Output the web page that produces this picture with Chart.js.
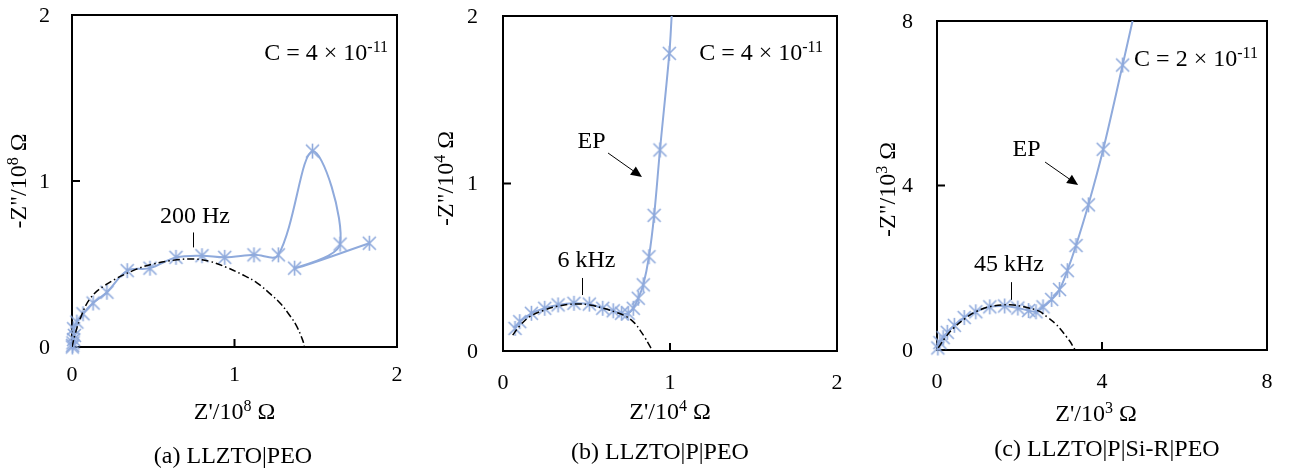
<!DOCTYPE html>
<html>
<head>
<meta charset="utf-8">
<script src="https://cdn.jsdelivr.net/npm/chart.js@4.4.1/dist/chart.umd.min.js"></script>
<style>
  body { margin: 0; background: #fff; width: 1290px; height: 474px; overflow: hidden; position: relative; }
  canvas { position: absolute; top: 0; }
</style>
</head>
<body>
<canvas id="chartA" width="430" height="474" style="left:0px"></canvas>
<canvas id="chartB" width="430" height="474" style="left:430px"></canvas>
<canvas id="chartC" width="430" height="474" style="left:860px"></canvas>
<script>
// (a) LLZTO|PEO  -- Z in 10^8 ohm
const aZre = [0.002, 0.004, 0.006, 0.01, 0.015, 0.01, 0.03, 0.068, 0.13, 0.215, 0.34, 0.48, 0.64, 0.80, 0.94, 1.12, 1.27, 1.48, 1.65, 1.37, 1.83];
const aZim = [0.0, 0.01, 0.025, 0.045, 0.07, 0.11, 0.15, 0.20, 0.265, 0.33, 0.46, 0.475, 0.54, 0.55, 0.54, 0.555, 0.555, 1.18, 0.62, 0.475, 0.625];
const aFitRe = [0, 0.02, 0.05, 0.11, 0.2, 0.375, 0.5, 0.645, 0.75, 0.85, 0.95, 1.05, 1.14, 1.22, 1.28, 1.34, 1.38, 1.42, 1.43];
const aFitIm = [0, 0.08, 0.17, 0.29, 0.37, 0.46, 0.5, 0.525, 0.53, 0.515, 0.48, 0.435, 0.385, 0.32, 0.265, 0.19, 0.13, 0.04, 0];

// (b) LLZTO|P|PEO  -- Z in 10^4 ohm
const bZre = [0.072, 0.10, 0.17, 0.25, 0.33, 0.425, 0.517, 0.597, 0.66, 0.71, 0.75, 0.78, 0.81, 0.84, 0.874, 0.905, 0.94, 0.996, 1.01];
const bZim = [0.135, 0.175, 0.225, 0.255, 0.275, 0.285, 0.28, 0.255, 0.24, 0.225, 0.225, 0.255, 0.315, 0.395, 0.563, 0.81, 1.20, 1.777, 2.0];
const bFitRe = [0.058, 0.1, 0.16, 0.25, 0.33, 0.43, 0.52, 0.6, 0.68, 0.74, 0.79, 0.82, 0.85, 0.87, 0.896];
const bFitIm = [0.095, 0.15, 0.205, 0.245, 0.268, 0.28, 0.275, 0.255, 0.23, 0.205, 0.165, 0.125, 0.08, 0.045, 0];

// (c) LLZTO|P|Si-R|PEO  -- Z in 10^3 ohm
const cZre = [0.02, 0.07, 0.15, 0.25, 0.42, 0.66, 0.94, 1.28, 1.64, 1.96, 2.22, 2.4, 2.57, 2.78, 2.97, 3.16, 3.37, 3.67, 4.03, 4.50, 4.74];
const cZim = [0.05, 0.18, 0.30, 0.43, 0.60, 0.79, 0.93, 1.05, 1.07, 1.02, 0.96, 0.93, 1.05, 1.23, 1.47, 1.93, 2.54, 3.53, 4.88, 6.93, 8.0];
const cFitRe = [0.03, 0.2, 0.4, 0.7, 0.96, 1.3, 1.77, 2.1, 2.46, 2.7, 2.86, 3.0, 3.14, 3.23, 3.30, 3.35];
const cFitIm = [0.05, 0.3, 0.53, 0.78, 0.94, 1.06, 1.1, 1.05, 0.95, 0.78, 0.65, 0.5, 0.32, 0.2, 0.08, 0];

const serif = '"Liberation Serif", "Times New Roman", serif';
const lineBlue = '#8faadc';
const textSize = 24;
const tickSize = 22;

function toPoints(xs, ys) {
    return xs.map((x, i) => ({ x: x, y: ys[i] }));
}

// asterisk marker: X with a vertical stroke
function makeStar(color) {
    const c = document.createElement('canvas');
    c.width = 17; c.height = 17;
    const g = c.getContext('2d');
    g.strokeStyle = color;
    g.lineWidth = 1.6;
    g.beginPath();
    g.moveTo(2, 2); g.lineTo(15, 15);
    g.moveTo(15, 2); g.lineTo(2, 15);
    g.moveTo(8.5, 1); g.lineTo(8.5, 16);
    g.stroke();
    return c;
}
const star = makeStar(lineBlue);

// text with superscript parts, y is the vertical middle
function richText(ctx, parts, x, y, size, align) {
    const sup = Math.round(size * 0.65);
    let w = 0;
    parts.forEach(p => {
        ctx.font = (p.sup ? sup : size) + 'px ' + serif;
        w += ctx.measureText(p.t).width;
    });
    let cx = align === 'right' ? x - w : (align === 'center' ? x - w / 2 : x);
    const base = y + size * 0.33;
    ctx.textAlign = 'left';
    ctx.textBaseline = 'alphabetic';
    ctx.fillStyle = '#000';
    parts.forEach(p => {
        ctx.font = (p.sup ? sup : size) + 'px ' + serif;
        ctx.fillText(p.t, cx, p.sup ? base - size * 0.31 : base);
        cx += ctx.measureText(p.t).width;
    });
}

function arrow(ctx, x1, y1, x2, y2) {
    const ang = Math.atan2(y2 - y1, x2 - x1);
    const len = 11, half = 5;
    const bx = x2 - len * Math.cos(ang), by = y2 - len * Math.sin(ang);
    ctx.strokeStyle = '#000';
    ctx.lineWidth = 1;
    ctx.beginPath();
    ctx.moveTo(x1, y1);
    ctx.lineTo(bx, by);
    ctx.stroke();
    ctx.fillStyle = '#000';
    ctx.beginPath();
    ctx.moveTo(x2, y2);
    ctx.lineTo(bx + half * Math.sin(ang), by - half * Math.cos(ang));
    ctx.lineTo(bx - half * Math.sin(ang), by + half * Math.cos(ang));
    ctx.closePath();
    ctx.fill();
}

const panelDecor = {
    id: 'panelDecor',
    beforeDatasetsDraw(chart, args, o) {
        const { ctx, chartArea: a, scales: { x, y } } = chart;
        ctx.save();
        ctx.strokeStyle = '#000';
        ctx.lineWidth = 2;
        ctx.strokeRect(a.left, a.top, a.width, a.height);
        ctx.beginPath();
        x.ticks.forEach(t => {
            const px = x.getPixelForValue(t.value);
            ctx.moveTo(px, a.bottom); ctx.lineTo(px, a.bottom - 8);
        });
        y.ticks.forEach(t => {
            const py = y.getPixelForValue(t.value);
            ctx.moveTo(a.left, py); ctx.lineTo(a.left + 8, py);
        });
        ctx.stroke();
        // tick labels, placed from the scales' own ticks
        ctx.fillStyle = '#000';
        ctx.font = tickSize + 'px ' + serif;
        ctx.textBaseline = 'middle';
        ctx.textAlign = 'center';
        x.ticks.forEach(t => ctx.fillText(String(t.value), x.getPixelForValue(t.value), a.bottom + o.xLabelGap));
        ctx.textAlign = 'right';
        y.ticks.forEach(t => ctx.fillText(String(t.value), a.left - o.yLabelGap, y.getPixelForValue(t.value) + 1));
        ctx.restore();
    },
    afterDraw(chart, args, o) {
        const { ctx, chartArea: a, scales: { x, y } } = chart;
        ctx.save();
        // C value
        richText(ctx, [{ t: o.cText }, { t: '-11', sup: true }], x.getPixelForValue(o.cPos[0]), y.getPixelForValue(o.cPos[1]), textSize, 'right');
        // frequency label and its marker line
        richText(ctx, [{ t: o.freq }], x.getPixelForValue(o.freqPos[0]), y.getPixelForValue(o.freqPos[1]), textSize, 'center');
        ctx.strokeStyle = '#000';
        ctx.lineWidth = 1;
        ctx.beginPath();
        const fx = Math.round(x.getPixelForValue(o.freqLine[0])) + 0.5;
        ctx.moveTo(fx, y.getPixelForValue(o.freqLine[1]));
        ctx.lineTo(fx, y.getPixelForValue(o.freqLine[2]));
        ctx.stroke();
        // EP arrow
        if (o.ep) {
            richText(ctx, [{ t: 'EP' }], x.getPixelForValue(o.ep.text[0]), y.getPixelForValue(o.ep.text[1]), textSize, 'center');
            arrow(ctx, x.getPixelForValue(o.ep.from[0]), y.getPixelForValue(o.ep.from[1]),
                  x.getPixelForValue(o.ep.to[0]), y.getPixelForValue(o.ep.to[1]));
        }
        // axis titles
        const midX = (a.left + a.right) / 2 + (o.xTitleShift || 0);
        richText(ctx, [{ t: "Z'/10" }, { t: o.exp, sup: true }, { t: ' \u03A9' }], midX, a.bottom + o.xTitleGap, textSize, 'center');
        ctx.save();
        ctx.translate(a.left - o.yTitleGap, (a.top + a.bottom) / 2 + (o.yTitleShift || 0));
        ctx.rotate(-Math.PI / 2);
        richText(ctx, [{ t: '-Z"/10' }, { t: o.exp, sup: true }, { t: ' \u03A9' }], 0, 0, textSize, 'center');
        ctx.restore();
        // caption
        richText(ctx, [{ t: o.caption }], o.capPos[0], o.capPos[1], textSize, 'center');
        ctx.restore();
    }
};

function makePanel(id, p) {
    const n = p.re.length;
    new Chart(document.getElementById(id), {
        type: 'scatter',
        data: {
            datasets: [{
                data: toPoints(p.re, p.im),
                showLine: true,
                borderColor: lineBlue,
                borderWidth: 2,
                tension: 0.35,
                pointStyle: c => (p.lastHidden && c.dataIndex === n - 1) ? false : star,
                clip: { left: 10, top: 0, right: 10, bottom: 10 },
                order: 2
            }, {
                data: toPoints(p.fitRe, p.fitIm),
                showLine: true,
                borderColor: '#000',
                borderWidth: 1.5,
                borderDash: [7, 3, 1.5, 3],
                pointRadius: 0,
                tension: 0.4,
                order: 1
            }]
        },
        options: {
            responsive: false,
            animation: false,
            events: [],
            layout: { padding: { left: 0, right: p.padRight, top: p.padTop, bottom: 0 } },
            plugins: {
                legend: { display: false },
                tooltip: { enabled: false },
                panelDecor: p.decor
            },
            scales: {
                x: {
                    type: 'linear', min: 0, max: p.max,
                    border: { display: false },
                    grid: { display: false, drawTicks: false },
                    ticks: { stepSize: p.step, display: false, padding: 0 },
                    afterFit: s => { s.height = p.xH; }
                },
                y: {
                    type: 'linear', min: 0, max: p.max,
                    border: { display: false },
                    grid: { display: false, drawTicks: false },
                    ticks: { stepSize: p.step, display: false, padding: 0 },
                    afterFit: s => { s.width = p.yW; }
                }
            }
        },
        plugins: [panelDecor]
    });
}

makePanel('chartA', {
    re: aZre, im: aZim, fitRe: aFitRe, fitIm: aFitIm,
    max: 2, step: 1, padRight: 33, padTop: 15, yW: 72, xH: 127,
    decor: {
        xLabelGap: 28, yLabelGap: 22,
        cText: 'C = 4 \u00D7 10', cPos: [1.945, 1.777],
        freq: '200 Hz', freqPos: [0.757, 0.795], freqLine: [0.745, 0.69, 0.60],
        exp: '8', xTitleGap: 64, yTitleGap: 54,
        caption: '(a) LLZTO|PEO', capPos: [233, 455]
    }
});

makePanel('chartB', {
    re: bZre, im: bZim, fitRe: bFitRe, fitIm: bFitIm, lastHidden: true,
    max: 2, step: 1, padRight: 23, padTop: 16, yW: 73, xH: 123,
    decor: {
        xLabelGap: 32, yLabelGap: 25,
        cText: 'C = 4 \u00D7 10', cPos: [1.916, 1.785],
        freq: '6 kHz', freqPos: [0.50, 0.549], freqLine: [0.473, 0.436, 0.334],
        ep: { text: [0.53, 1.26], from: [0.629, 1.182], to: [0.832, 1.039] },
        exp: '4', xTitleGap: 60, yTitleGap: 58, yTitleShift: -5,
        caption: '(b) LLZTO|P|PEO', capPos: [230, 451]
    }
});

makePanel('chartC', {
    re: cZre, im: cZim, fitRe: cFitRe, fitIm: cFitIm, lastHidden: true,
    max: 8, step: 4, padRight: 23, padTop: 21, yW: 77, xH: 124,
    decor: {
        xLabelGap: 32, yLabelGap: 24,
        cText: 'C = 2 \u00D7 10', cPos: [7.78, 7.10],
        freq: '45 kHz', freqPos: [1.745, 2.12], freqLine: [1.79, 1.65, 1.22],
        ep: { text: [2.17, 4.91], from: [2.62, 4.57], to: [3.42, 4.01] },
        exp: '3', xTitleGap: 63, yTitleGap: 50, xTitleShift: -6, yTitleShift: 4,
        caption: '(c) LLZTO|P|Si-R|PEO', capPos: [247, 448]
    }
});
</script>
</body>
</html>
